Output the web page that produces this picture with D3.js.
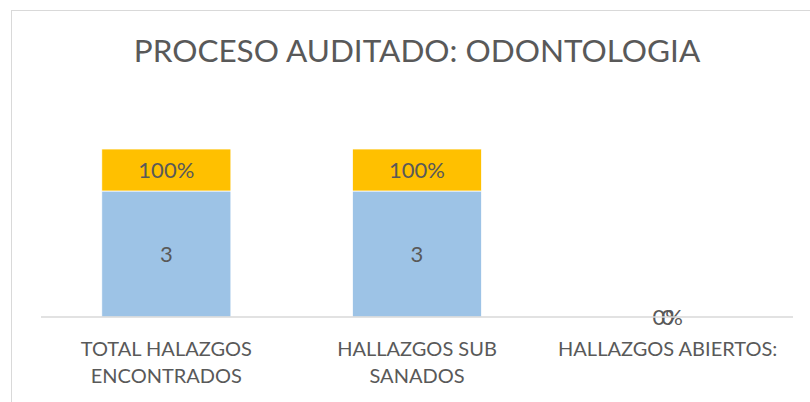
<!DOCTYPE html>
<html>
<head>
<meta charset="utf-8">
<script src="https://cdn.jsdelivr.net/npm/d3@7"></script>
<style>
  body { margin: 0; background: #fff; }
  svg text { font-family: Lato, "Open Sans", sans-serif; fill: #595959; }
</style>
</head>
<body>
<svg id="chart" width="810" height="402"></svg>
<script>
const title = 'PROCESO AUDITADO: ODONTOLOGIA';
const categories = ['TOTAL HALAZGOS ENCONTRADOS', 'HALLAZGOS SUB SANADOS', 'HALLAZGOS ABIERTOS:'];
const counts = [3, 3, 0];
const percents = [1, 1, 0];

const width = 810, height = 402;
const margin = { top: 107, right: 17, bottom: 85, left: 41 };

const svg = d3.select('#chart');

// chart frame, cut off at right and bottom like the picture
svg.append('rect')
   .attr('x', 11.5).attr('y', 10.5)
   .attr('width', 830).attr('height', 420)
   .attr('fill', 'none').attr('stroke', '#d9d9d9');

const x = d3.scaleBand()
   .domain(categories)
   .range([margin.left, width - margin.right])
   .paddingInner(0.485)
   .paddingOuter(0.2425);

const y = d3.scaleLinear()
   .domain([0, 5])
   .range([height - margin.bottom, margin.top]);

svg.append('text')
   .attr('x', (margin.left + width - margin.right) / 2)
   .attr('y', 62)
   .attr('text-anchor', 'middle')
   .style('font-size', '31.5px')
   .text(title);

const stack = categories.map((c, i) => ({ cat: c, count: counts[i], pct: percents[i] }));

const g = svg.append('g');

// counts (blue)
g.selectAll('.count').data(stack).enter().append('rect')
   .attr('class', 'count')
   .attr('x', d => x(d.cat))
   .attr('width', x.bandwidth())
   .attr('y', d => y(d.count))
   .attr('height', d => y(0) - y(d.count))
   .attr('fill', '#9dc3e6')
   .attr('stroke', '#fff').attr('stroke-width', 0.75);

// percents (yellow) stacked on top
g.selectAll('.pct').data(stack).enter().append('rect')
   .attr('class', 'pct')
   .attr('x', d => x(d.cat))
   .attr('width', x.bandwidth())
   .attr('y', d => y(d.count + d.pct))
   .attr('height', d => y(d.count) - y(d.count + d.pct))
   .attr('fill', '#ffc000')
   .attr('stroke', '#fff').attr('stroke-width', 0.75);

// axis
const xAxis = svg.append('g')
   .attr('transform', 'translate(0,' + y(0) + ')')
   .call(d3.axisBottom(x).tickSize(0).tickPadding(0));
xAxis.select('.domain').attr('stroke', '#d9d9d9').attr('stroke-width', 1.5)
   .attr('d', 'M' + margin.left + ',0H' + (width - margin.right));
xAxis.selectAll('.tick text').remove();

xAxis.selectAll('.tick').append('text')
   .attr('text-anchor', 'middle')
   .style('font-size', '20px')
   .each(function(d) {
       const words = d.split(' ');
       const lines = [];
       let line = [];
       const maxW = 240;
       const t = d3.select(this);
       words.forEach(w => {
           const test = line.concat(w).join(' ');
           t.text(test);
           if (this.getComputedTextLength() > maxW && line.length) {
               lines.push(line.join(' '));
               line = [w];
           } else {
               line.push(w);
           }
       });
       lines.push(line.join(' '));
       t.text(null);
       lines.forEach((l, i) => {
           t.append('tspan').attr('x', 0).attr('y', 39 + i * 27).text(l);
       });
   });

// data labels
g.selectAll('.lbl-count').data(stack).enter().append('text')
   .attr('x', d => x(d.cat) + x.bandwidth() / 2)
   .attr('y', d => (y(0) + y(d.count)) / 2)
   .attr('dy', '0.35em')
   .attr('text-anchor', 'middle')
   .style('font-size', '22px')
   .text(d => d.count);

g.selectAll('.lbl-pct').data(stack).enter().append('text')
   .attr('x', d => x(d.cat) + x.bandwidth() / 2)
   .attr('y', d => (y(d.count) + y(d.count + d.pct)) / 2)
   .attr('dy', '0.35em')
   .attr('text-anchor', 'middle')
   .style('font-size', '22px')
   .text(d => d3.format('.0%')(d.pct));
</script>
</body>
</html>
